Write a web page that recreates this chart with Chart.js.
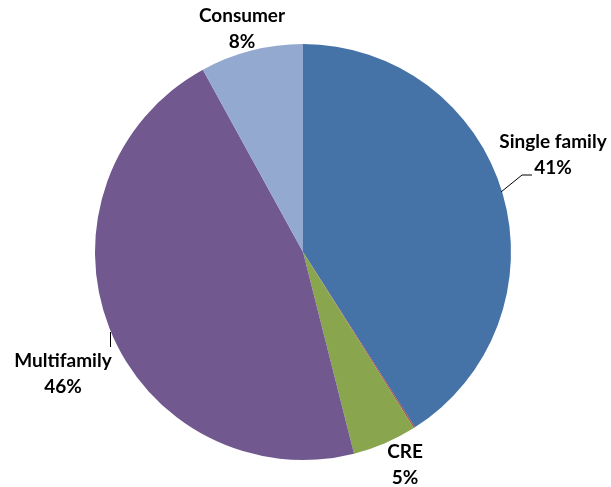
<!DOCTYPE html>
<html>
<head>
<meta charset="utf-8">
<script src="https://cdn.jsdelivr.net/npm/chart.js@4/dist/chart.umd.min.js"></script>
<style>
  html, body { margin: 0; padding: 0; background: #fff; }
  canvas { display: block; }
</style>
</head>
<body>
<canvas id="pieChart" width="611" height="487"></canvas>
<script>
// ====== Dữ liệu ======
const categories = ["Single family", "Other", "CRE", "Multifamily", "Consumer"];
const values     = [41, 0.1, 5, 46, 8];
const percentLabels = ["41%", "", "5%", "46%", "8%"];
const colors = ["#4572A7", "#AA4643", "#89A54E", "#71588F", "#93A9CF"];

// ====== Vị trí nhãn (so với tâm bánh) ======
const labelOffsets = [
  { dx: 250, dy: -97 },   // Single family
  null,                   // Other (không nhãn)
  { dx: 102, dy: 213 },   // CRE
  { dx: -240, dy: 122 },  // Multifamily
  { dx: -61, dy: -223 }   // Consumer
];

const FONT = "bold 19px Lato, 'Open Sans', sans-serif";

const labelPlugin = {
  id: "pieLabels",
  afterDraw(chart) {
    const ctx = chart.ctx;
    const arc = chart.getDatasetMeta(0).data[0];
    const cx = arc.x, cy = arc.y;
    ctx.save();
    ctx.font = FONT;
    ctx.fillStyle = "#000";
    ctx.textAlign = "center";
    ctx.textBaseline = "middle";
    categories.forEach((name, i) => {
      const off = labelOffsets[i];
      if (!off) return;
      ctx.fillText(name, cx + off.dx, cy + off.dy - 13);
      ctx.fillText(percentLabels[i], cx + off.dx, cy + off.dy + 13);
    });

    // đường dẫn nhãn
    ctx.strokeStyle = "#000";
    ctx.lineWidth = 1;
    ctx.beginPath();
    ctx.moveTo(cx + 198, cy - 60);
    ctx.lineTo(cx + 219, cy - 77);
    ctx.lineTo(cx + 229, cy - 77);
    ctx.stroke();
    ctx.beginPath();
    ctx.moveTo(cx - 192.5, cy + 80);
    ctx.lineTo(cx - 192.5, cy + 95);
    ctx.stroke();
    ctx.restore();
  }
};

new Chart(document.getElementById("pieChart"), {
  type: "pie",
  data: {
    labels: categories,
    datasets: [{
      data: values,
      backgroundColor: colors,
      borderWidth: 0
    }]
  },
  options: {
    responsive: false,
    animation: false,
    layout: { padding: { left: 95, right: 100, top: 44, bottom: 27 } },
    plugins: {
      legend: { display: false },
      tooltip: { enabled: false }
    }
  },
  plugins: [labelPlugin]
});
</script>
</body>
</html>
